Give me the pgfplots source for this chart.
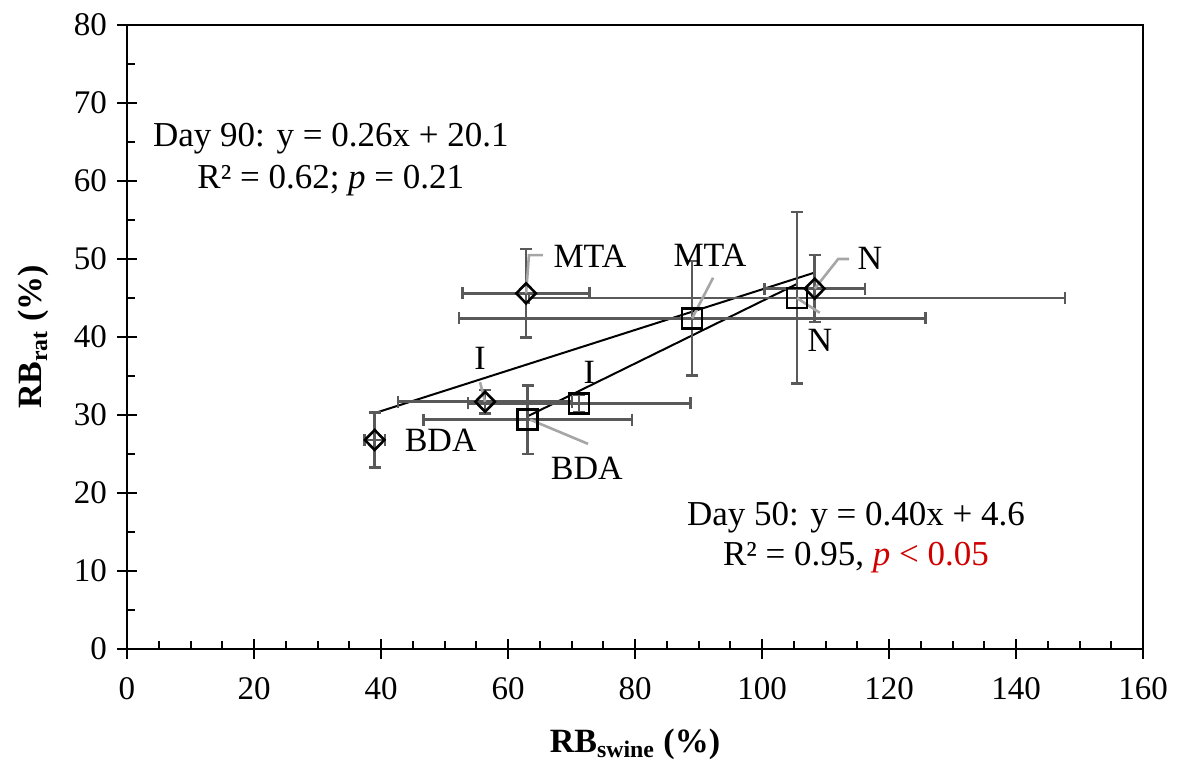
\documentclass[border=0pt]{standalone}
\usepackage{fontspec}
\setmainfont{Liberation Serif}
\usepackage{pgfplots}
\pgfplotsset{compat=1.18}
\definecolor{errgray}{HTML}{595959}
\definecolor{leadgray}{HTML}{A6A6A6}
\definecolor{pred}{HTML}{D00000}

% Day 90 (diamonds) and Day 50 (squares): x, y, x error, y error
\pgfplotstableread{
x      y     ex    ey
39.0   26.8  1.6   3.5
56.4   31.7  13.7  1.5
62.85  45.6  10.0  5.7
108.3  46.2  7.9   4.3
}\dayninety
\pgfplotstableread{
x      y     ex    ey
63.1   29.4  16.4  4.4
71.2   31.5  17.5  1.1
89.0   42.4  36.7  7.35
105.5  45.0  42.2  11.0
}\dayfifty

\begin{document}
\begin{tikzpicture}[x=1pt,y=1pt]
\useasboundingbox (0,0) rectangle (588.5,383);
\begin{axis}[
  at={(63.5pt,58.5pt)}, anchor=south west,
  width=508pt, height=312pt, scale only axis,
  xmin=0, xmax=160, ymin=0, ymax=80,
  xtick={0,20,...,160}, ytick={0,10,...,80},
  minor x tick num=3, minor y tick num=1,
  tick align=inside, major tick length=5pt, minor tick length=4pt,
  xtick pos=left, ytick pos=left,
  axis line style={line width=1pt},
  every tick/.style={black, line width=1pt},
  tick label style={font=\fontsize{16.5}{19}\selectfont},
  /pgf/number format/assume math mode=true,
  xticklabel style={yshift=-10.5pt},
  yticklabel style={xshift=-6.5pt},
  label style={font=\fontsize{17}{20}\selectfont},
  xlabel={\textbf{RB\textsubscript{swine} (\%)}},
  ylabel={\textbf{RB\textsubscript{rat} (\%)}},
  xlabel style={at={(axis description cs:0.5,0)}, anchor=base, yshift=-51.5pt},
  ylabel style={at={(axis description cs:0,0.5)}, anchor=base, yshift=42.5pt},
  clip=false,
  error bars/error bar style={errgray, line width=1.3pt},
  error bars/error mark options={errgray, line width=1.3pt, mark size=3pt, rotate=90},
]
% regression lines
\addplot[black, line width=1pt] coordinates {(39.0,30.24) (108.3,48.26)};
\addplot[black, line width=1pt] coordinates {(63.1,29.84) (105.5,46.8)};

% Day 90
\addplot[black, only marks, mark=diamond, mark size=5pt,
  mark options={xscale=1.3, line width=1.3pt},
  error bars/.cd, x dir=both, x explicit, y dir=both, y explicit]
  table[x=x, y=y, x error=ex, y error=ey] {\dayninety};
% Day 50
\addplot[black, only marks, mark=square, mark size=5pt,
  mark options={line width=1.3pt},
  error bars/.cd, x dir=both, x explicit, y dir=both, y explicit]
  table[x=x, y=y, x error=ex, y error=ey] {\dayfifty};

% leader lines
\addplot[leadgray, line width=1.3pt] coordinates {(62.85,45.6) (63.3,50.5) (65.5,50.5)};
\addplot[leadgray, line width=1.3pt] coordinates {(89.0,42.4) (92.3,47.6)};
\addplot[leadgray, line width=1.3pt] coordinates {(108.3,46.2) (112.0,50.0) (113.7,50.0)};
\addplot[leadgray, line width=1.3pt] coordinates {(105.5,45.0) (109.1,43.1)};
\addplot[leadgray, line width=1.3pt] coordinates {(55.6,34.2) (56.4,31.7)};
\addplot[leadgray, line width=1.3pt] coordinates {(63.5,29.4) (72.6,26.3)};

% point labels
\begin{scope}[every node/.style={font=\fontsize{17}{20}\selectfont, inner sep=0pt}]
\node at (axis cs:72.9,50.3) {MTA};
\node at (axis cs:91.8,50.5) {MTA};
\node at (axis cs:117.0,50.1) {N};
\node at (axis cs:109.1,39.6) {N};
\node at (axis cs:55.6,37.2) {I};
\node at (axis cs:72.8,35.5) {I};
\node at (axis cs:49.4,26.7) {BDA};
\node at (axis cs:72.4,23.2) {BDA};
\end{scope}

% regression annotations
\node[align=center, font=\fontsize{17.5}{21}\selectfont] at (axis cs:32.1,62.8)
  {Day 90: y = 0.26x + 20.1\\R² = 0.62; \textit{p} = 0.21};
\node[align=center, font=\fontsize{17.5}{20}\selectfont] at (axis cs:114.8,14.25)
  {Day 50: y = 0.40x + 4.6\\R² = 0.95, \textcolor{pred}{\textit{p} < 0.05}};
\end{axis}
% outer halves of the major ticks
\foreach \i in {0,...,8} {
  \draw[line width=1pt] (63.5+63.5*\i,58.5) -- ++(0,-5);
  \draw[line width=1pt] (63.5,58.5+39*\i) -- ++(-5,0);
}
\end{tikzpicture}
\end{document}
